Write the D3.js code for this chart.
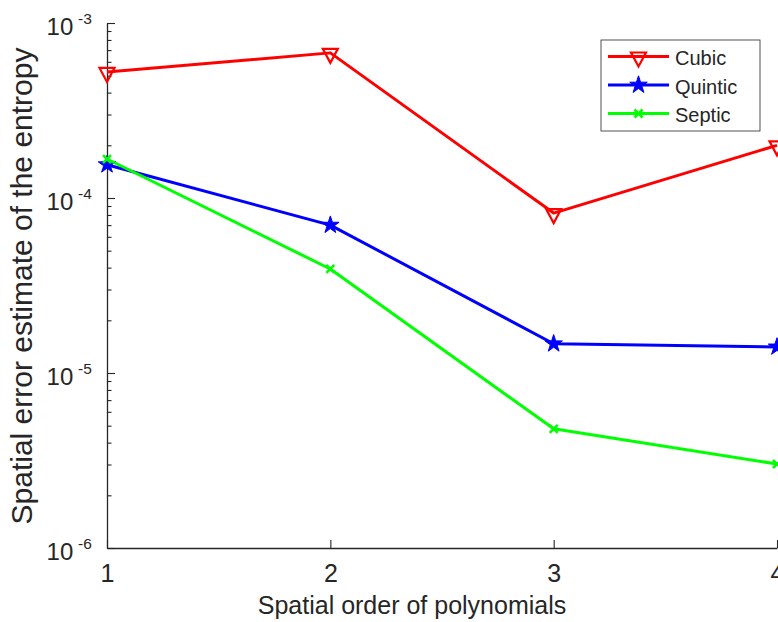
<!DOCTYPE html>
<html>
<head>
<meta charset="utf-8">
<script src="https://cdn.jsdelivr.net/npm/d3@7"></script>
<style>
  body { margin: 0; background: #fff; }
  text { font-family: "Liberation Sans", Arial, sans-serif; fill: #262626; }
</style>
</head>
<body>
<script>
// data
const orders = [1, 2, 3, 4];
const cubic = [5.25e-4, 6.75e-4, 8.2e-5, 2.0e-4];
const quintic = [1.55e-4, 7.0e-5, 1.47e-5, 1.41e-5];
const septic = [1.67e-4, 3.93e-5, 4.8e-6, 3.02e-6];
const yTickExps = [-3, -4, -5, -6];

const series = [
  {name: "Cubic", values: cubic, color: "#ff0000", marker: "tri"},
  {name: "Quintic", values: quintic, color: "#0000ff", marker: "star"},
  {name: "Septic", values: septic, color: "#00ff00", marker: "x"}
];

const W = 778, H = 622;
const margin = {top: 23, right: 1, bottom: 74, left: 107};
const width = W - margin.left - margin.right,
      height = H - margin.top - margin.bottom;

const svg = d3.select("body").append("svg")
  .attr("width", W).attr("height", H);

const g = svg.append("g")
  .attr("transform", "translate(" + margin.left + "," + margin.top + ")");

const x = d3.scaleLinear().domain([1, 4]).range([0, width]);
const y = d3.scaleLog().domain([1e-6, 1e-3]).range([height, 0]);

const axisColor = "#262626";

// x axis (ticks pointing inward, like matlab)
const xAxis = g.append("g")
  .attr("transform", "translate(0," + height + ")")
  .call(d3.axisBottom(x).tickValues(orders).tickSizeInner(-8).tickSizeOuter(0)
    .tickPadding(16).tickFormat(d3.format("d")));
xAxis.selectAll("text").style("font-size", "25px").attr("fill", axisColor);

// y axis: minor ticks then majors
const minor = [];
for (let e = -6; e < -3; e++) for (let m = 2; m <= 9; m++) minor.push(m * Math.pow(10, e));
g.append("g")
  .call(d3.axisLeft(y).tickValues(minor).tickSizeInner(-4.5).tickSizeOuter(0).tickFormat(""))
  .call(s => s.select(".domain").remove());
const yAxis = g.append("g")
  .call(d3.axisLeft(y).tickValues(yTickExps.map(e => Math.pow(10, e)))
    .tickSizeInner(-8).tickSizeOuter(0).tickFormat(""));

[xAxis, yAxis].forEach(a => {
  a.select(".domain").attr("stroke", axisColor).attr("stroke-width", 1.3);
});
g.selectAll(".tick line").attr("stroke", axisColor).attr("stroke-width", 1.1);

// y tick labels: 10 with superscript exponent
yTickExps.forEach(e => {
  const ty = y(Math.pow(10, e));
  g.append("text")
    .attr("x", -33.7).attr("y", ty + 12)
    .attr("text-anchor", "end")
    .style("font-size", "24px")
    .text("10");
  g.append("text")
    .attr("x", -29).attr("y", ty + 0.5)
    .attr("text-anchor", "start")
    .style("font-size", "15.5px")
    .text(e);
});

// axis labels
svg.append("text")
  .attr("x", 412).attr("y", 614)
  .attr("text-anchor", "middle")
  .style("font-size", "25px")
  .text("Spatial order of polynomials");
svg.append("text")
  .attr("transform", "translate(32,286) rotate(-90)")
  .attr("text-anchor", "middle")
  .style("font-size", "30px")
  .text("Spatial error estimate of the entropy");

const line = d3.line().x((d, i) => x(orders[i])).y(d => y(d));

const star = d3.symbol().type(d3.symbolStar).size(95);
const tri = "M-7.5,-4L7.5,-4L0,10Z";

function drawMarker(sel, m, color) {
  if (m === "tri") {
    sel.append("path").attr("d", tri).attr("fill", "none")
      .attr("stroke", color).attr("stroke-width", 2.2).attr("stroke-linejoin", "miter");
  } else if (m === "star") {
    sel.append("path").attr("d", star()).attr("fill", color)
      .attr("stroke", color).attr("stroke-width", 1);
  } else {
    sel.append("path").attr("d", "M-4,-4L4,4M-4,4L4,-4").attr("fill", "none")
      .attr("stroke", color).attr("stroke-width", 2.5);
  }
}

series.forEach(s => {
  g.append("path").datum(s.values)
    .attr("d", line).attr("fill", "none")
    .attr("stroke", s.color).attr("stroke-width", 3)
    .attr("stroke-linejoin", "round");
  s.values.forEach((v, i) => {
    const mg = g.append("g").attr("transform", "translate(" + x(orders[i]) + "," + y(v) + ")");
    drawMarker(mg, s.marker, s.color);
  });
});

// legend
const lg = svg.append("g").attr("transform", "translate(601,40)");
lg.append("rect").attr("width", 159).attr("height", 91)
  .attr("fill", "#fff").attr("stroke", axisColor).attr("stroke-width", 0.8);
series.forEach((s, i) => {
  const yy = 16.5 + i * 28.5;
  lg.append("line").attr("x1", 7).attr("x2", 68).attr("y1", yy).attr("y2", yy)
    .attr("stroke", s.color).attr("stroke-width", 3);
  drawMarker(lg.append("g").attr("transform", "translate(37.5," + yy + ")"), s.marker, s.color);
  lg.append("text").attr("x", 74).attr("y", yy + 8.5)
    .style("font-size", "20px").text(s.name);
});
</script>
</body>
</html>
